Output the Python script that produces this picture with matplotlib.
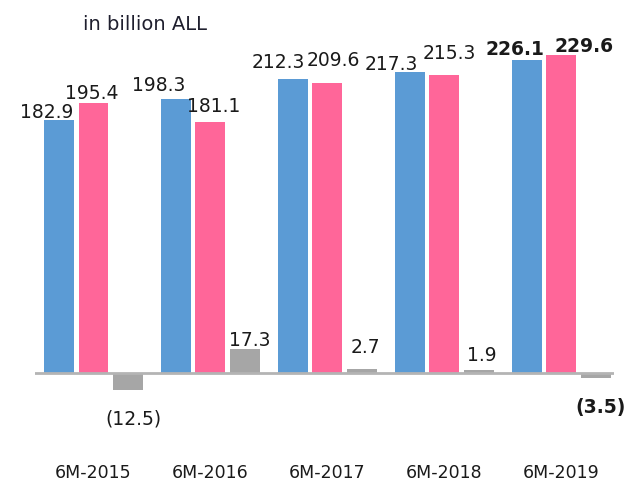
import matplotlib
matplotlib.use("Agg")
import matplotlib.pyplot as plt
import numpy as np

# data (billion ALL)
periods = ["6M-2015", "6M-2016", "6M-2017", "6M-2018", "6M-2019"]
blue_vals = [182.9, 198.3, 212.3, 217.3, 226.1]
pink_vals = [195.4, 181.1, 209.6, 215.3, 229.6]
gray_vals = [-12.5, 17.3, 2.7, 1.9, -3.5]

# label nudges in pixels (dx, dy up), to mimic the original placement
blue_dx = [-12, -17, -15, -19, -12]
blue_dy = [8, 14.5, 17.5, 8.5, 12]
pink_dx = [-2, 3, 6, 5, 23]
pink_dy = [10, 17, 23, 23, 9.5]
gray_dx = [5.5, 5, 4, 3, 4.5]
gray_dy = [-27.5, 9.5, 22.5, 16, -28.5]

BLUE = "#5B9BD5"
PINK = "#FF6699"
GRAY = "#A6A6A6"

fig = plt.figure(figsize=(6.25, 4.81), dpi=100)
ax = fig.add_axes([0.056, 0.1218, 0.9264, 0.82])

x = np.arange(len(periods))
off = 0.294
w = 0.256

ax.bar(x - off, blue_vals, w, color=BLUE, zorder=2)
ax.bar(x, pink_vals, w, color=PINK, zorder=2)
ax.bar(x + off, gray_vals, w, color=GRAY, zorder=2)
ax.axhline(0, color="#B4B4B4", lw=2, zorder=3)

px = 72.0 / 100  # pixels -> points


def fmt(v):
    if v < 0:
        return "(%.1f)" % abs(v)
    return "%.1f" % v


def label(xs, vals, dxs, dys):
    for i, (xx, v) in enumerate(zip(xs, vals)):
        ax.annotate(fmt(v), (xx, v), xytext=(dxs[i] * px, dys[i] * px),
                    textcoords="offset points", ha="center", va="center",
                    fontsize=13.5, color="#1a1a1a",
                    fontweight="bold" if i == len(vals) - 1 else "normal")


label(x - off, blue_vals, blue_dx, blue_dy)
label(x, pink_vals, pink_dx, pink_dy)
label(x + off, gray_vals, gray_dx, gray_dy)

ax.set_xlim(-0.5, 4.45)
ax.set_ylim(-35, 250)
ax.set_xticks(x)
ax.set_xticklabels(periods, fontsize=12.5, color="#1a1a1a")
ax.tick_params(axis="x", length=0, pad=30)
ax.set_yticks([])
for s in ax.spines.values():
    s.set_visible(False)

fig.text(83 / 625, 1 - 25 / 481, "in billion ALL", fontsize=14,
         color="#1f1f2e", ha="left", va="center")

fig.savefig("out.png", dpi=100)
